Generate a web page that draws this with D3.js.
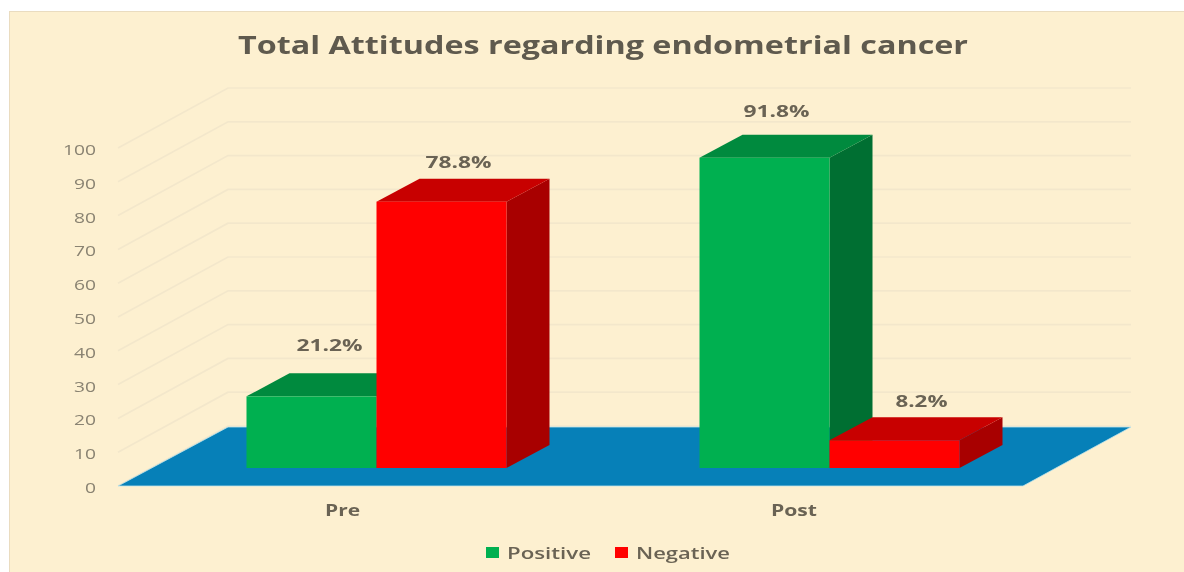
<!DOCTYPE html>
<html><head><meta charset="utf-8"><style>html,body{margin:0;padding:0;background:#fff}svg{display:block;filter:blur(0.55px)}text{font-family:"Open Sans",sans-serif}</style>
<script src="https://cdn.jsdelivr.net/npm/d3@7/dist/d3.min.js"></script></head><body><svg id="c" width="1184" height="572"></svg>
<script>
const categories=["Pre","Post"];
const seriesNames=["Positive","Negative"];
const positive=[21.2,91.8];
const negative=[78.8,8.2];
const ticks=[0,10,20,30,40,50,60,70,80,90,100];
const title="Total Attitudes regarding endometrial cancer";
const colors={Positive:{front:"#00b050",top:"#008a3e",side:"#006f32"},Negative:{front:"#ff0000",top:"#c80000",side:"#a80000"}};

const svg=d3.select("#c");
const ink="#6a6354";
svg.append("rect").attr("x",-5).attr("y",-5).attr("width",1200).attr("height",590).attr("fill","#fff");
svg.append("rect").attr("x",9.5).attr("y",11.5).attr("width",1190).attr("height",580).attr("fill","#fdf0d0").attr("stroke","#eadcc0");

const frontLeft=118,frontRight=1023,depthX=110,depthY=-59;
const y=d3.scaleLinear().domain([0,100]).range([486,148]);
const grid=svg.append("g");
ticks.forEach(t=>{
  const yy=y(t);
  grid.append("path").attr("d",d3.line()([[frontLeft,yy],[frontLeft+depthX,yy+depthY-1],[frontRight+depthX-2,yy+depthY-1]]))
   .attr("fill","none").attr("stroke","#f3e7cb").attr("stroke-width",1.7);
});
svg.append("path").attr("d",d3.line()([[frontLeft,y(0)],[frontLeft+depthX,y(0)+depthY],[frontRight+depthX-2,y(0)+depthY],[frontRight,y(0)]])+"Z")
 .attr("fill","#0680b8").attr("stroke","#bfe3ea").attr("stroke-width",0.8);

// the two bars of a group meet at the scale's point for that category
const x=d3.scalePoint().domain(categories).range([376.5,829.5]);
const bw=130,bdx=43,bdy=-23,baseLift=18;
const baseY=y(0)-baseLift;
const scale=(y(0)-y(100))/100;
const rows=[];
categories.forEach((c,i)=>{rows.push({c,s:"Positive",v:positive[i],off:-bw});rows.push({c,s:"Negative",v:negative[i],off:0});});
// label placement: [horizontal shift, lift above the top face, text width]
const labelPlace=[[18,28,66],[17,17,66],[12,24,66],[27,16,52]];
const bars=svg.append("g");
rows.forEach((d,i)=>{
  const xL=x(d.c)+d.off;
  const h=d.v*scale,top=baseY-h,col=colors[d.s];
  bars.append("path").attr("d",d3.line()([[xL+bw,baseY],[xL+bw+bdx,baseY+bdy],[xL+bw+bdx,top+bdy],[xL+bw,top]])+"Z").attr("fill",col.side);
  bars.append("path").attr("d",d3.line()([[xL,top],[xL+bdx,top+bdy],[xL+bw+bdx,top+bdy],[xL+bw,top]])+"Z").attr("fill",col.top);
  bars.append("rect").attr("x",xL).attr("y",top).attr("width",bw).attr("height",h).attr("fill",col.front);
  const p=labelPlace[i];
  svg.append("text").attr("x",xL+bw/2+p[0]).attr("y",top+bdy-p[1]+6).attr("text-anchor","middle")
    .attr("font-size",16).attr("font-weight",700).attr("fill",ink)
    .attr("textLength",p[2]).attr("lengthAdjust","spacingAndGlyphs").text(d.v.toFixed(1)+"%");
});

const axis=d3.axisLeft(y).tickValues(ticks).tickSize(0).tickPadding(0);
const ga=svg.append("g").attr("transform","translate(96,1)").call(axis);
ga.select(".domain").remove();
ga.selectAll("text").attr("font-size",15).attr("fill","#8a8372").attr("font-family","'DejaVu Sans','Open Sans'").attr("dy","0.36em")
  .attr("textLength",t=>String(t).length*11).attr("lengthAdjust","spacingAndGlyphs");

const catPlace=[[342.5,35],[794,46]];
categories.forEach((c,i)=>svg.append("text").attr("x",catPlace[i][0]).attr("y",516).attr("text-anchor","middle")
  .attr("font-size",16).attr("font-weight",700).attr("fill",ink)
  .attr("textLength",catPlace[i][1]).attr("lengthAdjust","spacingAndGlyphs").text(c));

svg.append("text").attr("x",603).attr("y",53.5).attr("text-anchor","middle").attr("font-size",25.5).attr("font-weight",700).attr("fill","#5f5a4e")
  .attr("textLength",730).attr("lengthAdjust","spacingAndGlyphs").text(title);

const legPlace=[[486,84],[615,94]];
seriesNames.forEach((s,i)=>{
  const lx=legPlace[i][0];
  svg.append("rect").attr("x",lx).attr("y",547).attr("width",13).attr("height",11).attr("fill",colors[s].front);
  svg.append("text").attr("x",lx+21).attr("y",558.5).attr("font-size",16).attr("font-weight",600).attr("fill",ink)
    .attr("textLength",legPlace[i][1]).attr("lengthAdjust","spacingAndGlyphs").text(s);
});
</script></body></html>
